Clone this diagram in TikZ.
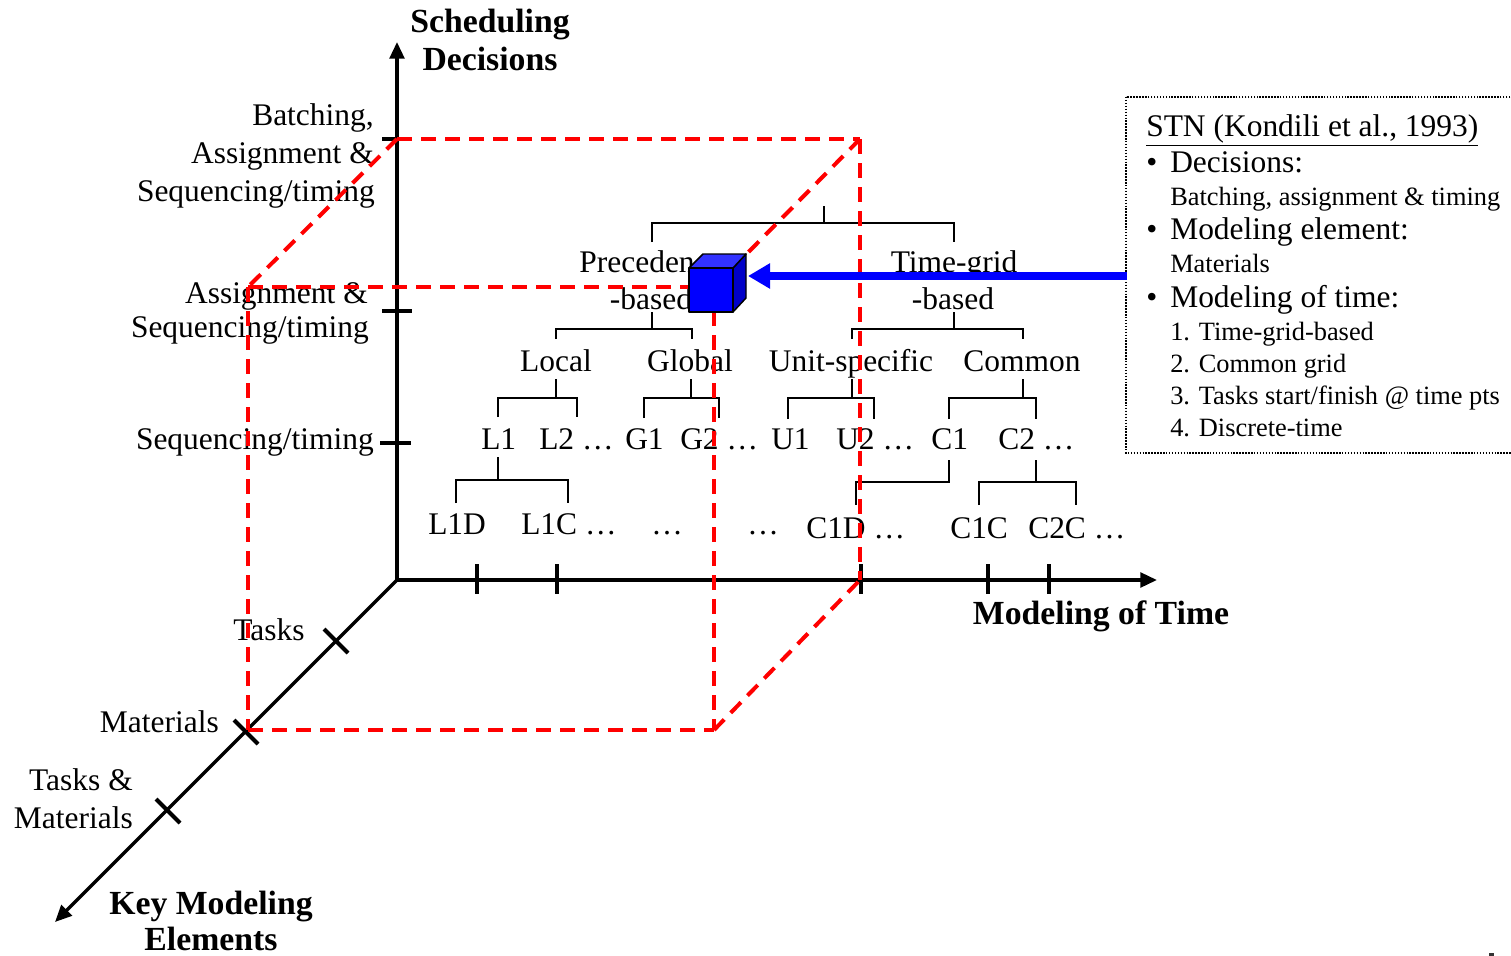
\documentclass[tikz,border=0pt]{standalone}
\usepackage{fontspec}
\setmainfont{Liberation Serif}
\usetikzlibrary{arrows.meta}
\begin{document}
\begin{tikzpicture}[x=0.75pt,y=-0.75pt,
  lbl/.style={inner sep=0pt, font=\fontsize{23.6}{28}\selectfont},
  sml/.style={inner sep=0pt, font=\fontsize{19.8}{24}\selectfont},
  ttl/.style={inner sep=0pt, font=\fontsize{25.3}{30}\selectfont\bfseries},
  axis/.style={line width=2.6pt},
  tickmark/.style={line width=3pt},
  tree/.style={line width=1.5pt},
  cubeedge/.style={red, line width=3pt, dash pattern=on 11pt off 7pt},
  head/.style={-{Triangle[length=12.5pt,width=11pt]}},
]
\clip (0,0) rectangle (1511,956);
\fill[white] (0,0) rectangle (1511,956);

% ---------- axes ----------
\coordinate (O) at (397,580);
\coordinate (ytop) at (397,42);
\coordinate (xend) at (1157,580);
\coordinate (zend) at (55,922);
\draw[axis,{Triangle[length=12.5pt,width=11pt]}-{Triangle[length=12.5pt,width=11pt]}] (ytop) -- (O) -- (xend);
\draw[axis,head] (O) -- (zend);

% ticks on the decision axis
\draw[tickmark] (382,139) -- (412,139);
\draw[tickmark] (382,311) -- (412,311);
\draw[tickmark] (380,443) -- (411,443);
% ticks on the time axis
\foreach \tx in {477,557,861,988,1049} \draw[tickmark] (\tx,564) -- (\tx,594);
% ticks on the modeling-element axis
\draw[tickmark] (324,629) -- (348,653);
\draw[tickmark] (234,720) -- (258,744);
\draw[tickmark] (156,799) -- (180,823);

% ---------- axis titles ----------
\node[ttl, anchor=base] (t1) at (490,33) {Scheduling};
\node[ttl, anchor=base] (t2) at (490,71) {Decisions};
\node[ttl, anchor=base] (t3) at (1101,624) {Modeling of Time};
\node[ttl, anchor=base] (t4) at (211,914) {Key Modeling};
\node[ttl, anchor=base] (t5) at (211,950) {Elements};

% ---------- decision levels ----------
\node[lbl, anchor=base east] (d1a) at (374,126) {Batching,};
\node[lbl, anchor=base east] (d1b) at (374,163) {Assignment \&};
\node[lbl, anchor=base east] (d1c) at (375,201) {Sequencing/timing};
\node[lbl, anchor=base east] (d2a) at (368,303) {Assignment \&};
\node[lbl, anchor=base east] (d2b) at (369,337) {Sequencing/timing};
\node[lbl, anchor=base east] (d3) at (374,449) {Sequencing/timing};

% ---------- modeling elements ----------
\node[lbl, anchor=base west] (e1) at (233,640) {Tasks};
\node[lbl, anchor=base east] (e2) at (219,732) {Materials};
\node[lbl, anchor=base east] (e3a) at (133,790) {Tasks \&};
\node[lbl, anchor=base east] (e3b) at (133,828) {Materials};

% ---------- time representation tree ----------
\draw[tree] (824,206) -- (824,223);
\draw[tree] (652,242) |- (954,223) -- (954,242);
\node[lbl, anchor=base] (prec) at (651,272) {Precedence};
\node[lbl, anchor=base] (precb) at (651,309) {-based};
\node[lbl, anchor=base] (grid) at (954,272) {Time-grid};
\node[lbl, anchor=base] (gridb) at (953,309) {-based};

\draw[tree] (652,312) -- (652,329);
\draw[tree] (556,339) |- (692,329) -- (692,339);
\draw[tree] (954,312) -- (954,329);
\draw[tree] (852,339) |- (1023,329) -- (1023,339);
\node[lbl, anchor=base] (local) at (556,371) {Local};
\node[lbl, anchor=base] (global) at (690,371) {Global};
\node[lbl, anchor=base] (unit) at (851,371) {Unit-specific};
\node[lbl, anchor=base] (common) at (1022,371) {Common};

\draw[tree] (556,379) -- (556,398);
\draw[tree] (498,417) |- (577,398) -- (577,417);
\draw[tree] (691,379) -- (691,398);
\draw[tree] (644,418) |- (719,398) -- (719,418);
\draw[tree] (852,379) -- (852,398);
\draw[tree] (788,419) |- (874,398) -- (874,419);
\draw[tree] (1023,379) -- (1023,398);
\draw[tree] (949,419) |- (1036,398) -- (1036,419);

\node[lbl, anchor=base west] (l1) at (481,449) {L1};
\node[lbl, anchor=base west] (l2) at (539,449) {L2 …};
\node[lbl, anchor=base west] (g1) at (625,449) {G1};
\node[lbl, anchor=base west] (g2) at (680,449) {G2 …};
\node[lbl, anchor=base west] (u1) at (771,449) {U1};
\node[lbl, anchor=base west] (u2) at (836,449) {U2 …};
\node[lbl, anchor=base west] (c1) at (931,449) {C1};
\node[lbl, anchor=base west] (c2) at (998,449) {C2 …};

\draw[tree] (498,457) -- (498,480);
\draw[tree] (456,503) |- (568,480) -- (568,503);
\draw[tree] (949,460) -- (949,482) -| (856,505);
\draw[tree] (1036,460) -- (1036,482);
\draw[tree] (979,505) |- (1076,482) -- (1076,505);

\node[lbl, anchor=base west] (l1d) at (428,534) {L1D};
\node[lbl, anchor=base west] (l1c) at (521,534) {L1C …};
\node[lbl, anchor=base west] (gd) at (651,534) {…};
\node[lbl, anchor=base west] (ud) at (747,534) {…};
\node[lbl, anchor=base west] (c1d) at (806,538) {C1D …};
\node[lbl, anchor=base west] (c1c) at (950,538) {C1C};
\node[lbl, anchor=base west] (c2c) at (1028,538) {C2C …};

% ---------- dashed bounding box of the STN model ----------
\coordinate (bt) at (397,139);
\coordinate (bt2) at (860,139);
\coordinate (bx) at (860,580);
\coordinate (ft) at (248,287);
\coordinate (fc) at (714,287);
\coordinate (fb) at (248,730);
\coordinate (fb2) at (714,730);
\draw[cubeedge] (bt) -- (bt2);
\draw[cubeedge] (bt2) -- (bx);
\draw[cubeedge] (bt) -- (ft);
\draw[cubeedge] (ft) -- (fc);
\draw[cubeedge] (ft) -- (fb);
\draw[cubeedge] (fb) -- (fb2);
\draw[cubeedge] (fc) -- (fb2);
\draw[cubeedge] (fb2) -- (bx);
\draw[cubeedge] (bt2) -- (fc);

% ---------- STN marker cube ----------
\begin{scope}[line width=1.1pt, line join=round]
  \filldraw[fill={rgb,255:red,0;green,0;blue,200}] (733,268) -- (746,254) -- (746,298) -- (733,312) -- cycle;
  \filldraw[fill={rgb,255:red,50;green,50;blue,255}] (689,268) -- (703,254) -- (746,254) -- (733,268) -- cycle;
  \filldraw[fill=blue] (689,268) rectangle (733,312);
\end{scope}
\coordinate (cubetip) at (748,276);

% ---------- legend ----------
\draw[line width=1.1pt, dash pattern=on 1.1pt off 1.1pt] (1126,97) rectangle (1540,453);
\coordinate (legtail) at (1127,276);
\draw[blue, line width=6pt, -{Triangle[length=16.5pt,width=18pt]}] (legtail) -- (cubetip);

\node[lbl, anchor=base west] (stn) at (1146,137) {\underline{STN (Kondili et al., 1993)}};
\node[lbl, anchor=base west] (b1) at (1146,172) {•};
\node[lbl, anchor=base west] (i1) at (1170,172) {Decisions:};
\node[sml, anchor=base west] (i1a) at (1170,205) {Batching, assignment \& timing};
\node[lbl, anchor=base west] (b2) at (1146,239) {•};
\node[lbl, anchor=base west] (i2) at (1170,239) {Modeling element:};
\node[sml, anchor=base west] (i2a) at (1170,272) {Materials};
\node[lbl, anchor=base west] (b3) at (1146,307) {•};
\node[lbl, anchor=base west] (i3) at (1170,307) {Modeling of time:};
\node[sml, anchor=base west] (i3a) at (1170,340) {1. Time-grid-based};
\node[sml, anchor=base west] (i3b) at (1170,372) {2. Common grid};
\node[sml, anchor=base west] (i3c) at (1170,404) {3. Tasks start/finish @ time pts};
\node[sml, anchor=base west] (i3d) at (1170,436) {4. Discrete-time};

% corner mark
\fill[black!80] (1489,953) rectangle (1494,956);
\end{tikzpicture}
\end{document}
